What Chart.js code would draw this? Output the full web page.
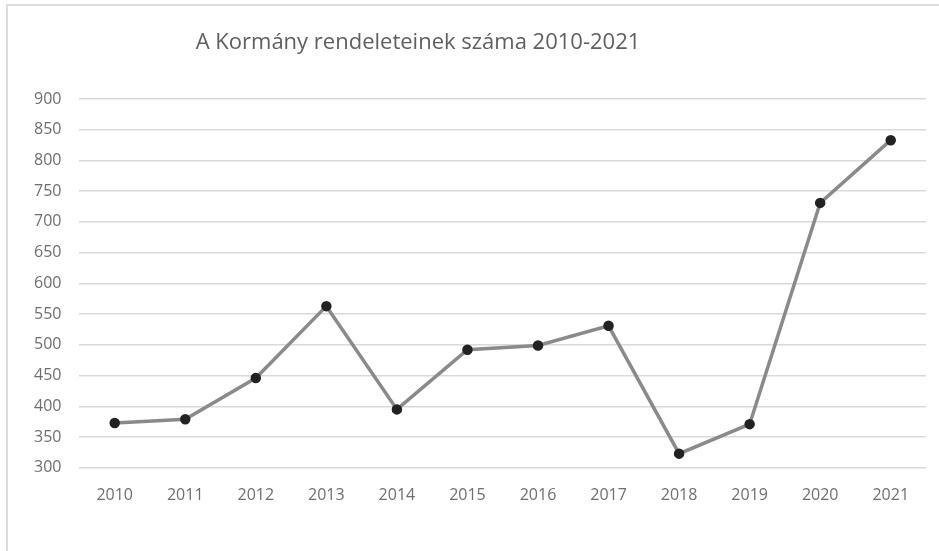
<!DOCTYPE html>
<html>
<head>
<meta charset="utf-8">
<script src="https://cdn.jsdelivr.net/npm/chart.js@4"></script>
<style>
  html, body { margin: 0; padding: 0; background: #fff; }
  #wrap { position: relative; width: 939px; height: 551px; overflow: hidden; }
  #frame { position: absolute; left: 6px; top: 4px; right: -4px; bottom: -4px;
           border-left: 2px solid #dcdcdc; border-top: 2px solid #dcdcdc; }
  #chartBox { position: absolute; left: 0; top: 0; width: 939px; height: 551px; }
</style>
</head>
<body>
<div id="wrap">
  <div id="frame"></div>
  <div id="chartBox"><canvas id="decrees"></canvas></div>
</div>
<script>
const years = ['2010', '2011', '2012', '2013', '2014', '2015', '2016', '2017', '2018', '2019', '2020', '2021'];
const decreeCounts = [373, 379, 446, 563, 395, 492, 499, 531, 323, 371, 731, 833];
const chartTitle = 'A Kormány rendeleteinek száma 2010-2021';

// Title sits left of centre in the original, so draw it by hand
const titlePlugin = {
    id: 'offsetTitle',
    afterDraw(chart) {
        const ctx = chart.ctx;
        ctx.save();
        ctx.font = '22px "Open Sans"';
        ctx.fillStyle = '#5f5f5f';
        ctx.textAlign = 'center';
        ctx.textBaseline = 'middle';
        ctx.fillText(chartTitle, 418, 43);
        ctx.restore();
    }
};

new Chart(document.getElementById('decrees'), {
    type: 'line',
    data: {
        labels: years,
        datasets: [{
            label: 'Rendeletek',
            data: decreeCounts,
            borderColor: '#8a8a8a',
            borderWidth: 3.5,
            pointBackgroundColor: '#222',
            pointBorderColor: '#222',
            pointRadius: 3.5,
            tension: 0
        }]
    },
    options: {
        responsive: true,
        maintainAspectRatio: false,
        animation: false,
        layout: { padding: { top: 99, left: 16, right: 13, bottom: 36 } },
        scales: {
            x: {
                offset: true,
                grid: { display: false },
                border: { display: false },
                ticks: { color: '#6e6e6e', font: { family: 'Open Sans', size: 16 }, padding: 10 }
            },
            y: {
                min: 300,
                max: 900,
                grid: { color: '#d9d9d9', lineWidth: 1.5, drawTicks: false },
                border: { display: false },
                ticks: { stepSize: 50, color: '#6e6e6e', font: { family: 'Open Sans', size: 16 }, padding: 18 }
            }
        },
        plugins: {
            legend: { display: false },
            tooltip: { enabled: false }
        }
    },
    plugins: [titlePlugin]
});
</script>
</body>
</html>
